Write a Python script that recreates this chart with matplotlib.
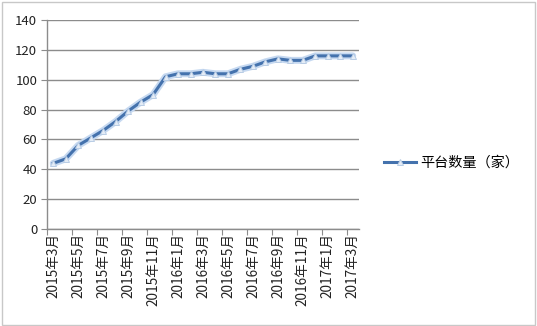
import matplotlib
matplotlib.use("Agg")
import matplotlib.pyplot as plt
from matplotlib.patches import Rectangle

plt.rcParams['font.family'] = ['Noto Sans CJK SC', 'DejaVu Sans']

months = ["2015年3月", "2015年4月", "2015年5月", "2015年6月", "2015年7月", "2015年8月",
          "2015年9月", "2015年10月", "2015年11月", "2015年12月", "2016年1月", "2016年2月",
          "2016年3月", "2016年4月", "2016年5月", "2016年6月", "2016年7月", "2016年8月",
          "2016年9月", "2016年10月", "2016年11月", "2016年12月", "2017年1月", "2017年2月",
          "2017年3月"]
values = [44, 47, 56, 61, 66, 72, 79, 85, 90, 102, 104, 104, 105, 104, 104, 107, 109, 112,
          114, 113, 113, 116, 116, 116, 116]
series_name = "平台数量（家）"
y_ticks = [0, 20, 40, 60, 80, 100, 120, 140]

fig = plt.figure(figsize=(5.37, 3.26), dpi=100)
fig.patches.append(Rectangle((0.003, 0.004), 0.993, 0.99, transform=fig.transFigure,
                             fill=False, edgecolor='#c8c8c8', linewidth=1))
ax = fig.add_axes([0.0875, 0.2975, 0.581, 0.641])

x = list(range(len(values)))
ax.plot(x, values, color='#c6d9f1', linewidth=5, solid_capstyle='round', zorder=2)
line, = ax.plot(x, values, color='#4472ad', linewidth=2.2, marker='^', markersize=5,
                markerfacecolor='#e4ecf6', markeredgecolor='#b9cde5', markeredgewidth=0.7,
                zorder=3, label=series_name)

ax.set_xlim(-0.5, len(values) - 0.5)
ax.set_ylim(0, 140)
ax.set_yticks(y_ticks)
ax.set_yticklabels([str(v) for v in y_ticks], fontsize=9.5, color='#222222')
ax.yaxis.grid(True, color='#8c8c8c', linewidth=1)
ax.set_axisbelow(True)

major = [i - 0.5 for i in range(0, len(values) + 1, 2)]
ax.set_xticks(major)
ax.set_xticklabels([])
ax.set_xticks(list(range(0, len(values), 2)), minor=True)
ax.set_xticklabels([months[i] for i in range(0, len(values), 2)], minor=True,
                   rotation=90, fontsize=9.8, color='#222222')
ax.tick_params(axis='x', which='minor', length=0, pad=3)
ax.tick_params(axis='x', which='major', length=4, color='#8c8c8c', direction='out')
ax.tick_params(axis='y', length=4, color='#8c8c8c', direction='out', pad=3)

for s in ['top', 'right']:
    ax.spines[s].set_visible(False)
for s in ['left', 'bottom']:
    ax.spines[s].set_color('#8c8c8c')
    ax.spines[s].set_linewidth(1)

fig.legend(handles=[line], loc='center left', bbox_to_anchor=(0.692, 0.5),
           frameon=False, fontsize=10.2, handlelength=2.2, handletextpad=0.3)

fig.savefig('out.png', dpi=100)
